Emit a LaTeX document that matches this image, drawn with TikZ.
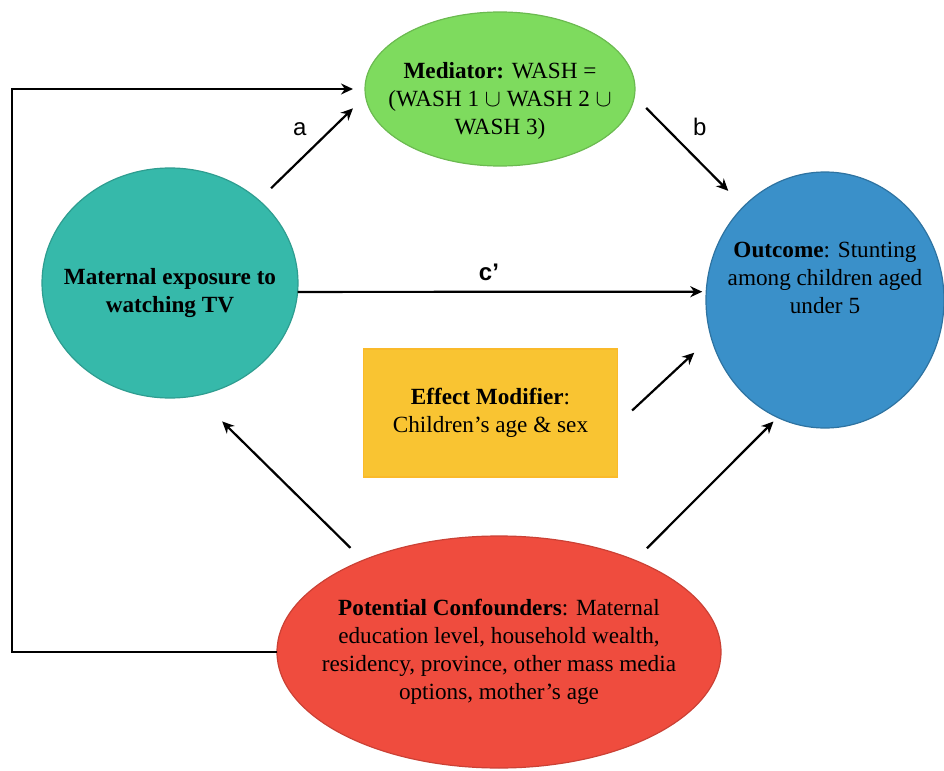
\documentclass[tikz,border=0pt]{standalone}
\usepackage{fontspec}
\setmainfont{Liberation Serif}
\newfontfamily\arialfont{Liberation Sans}
\usetikzlibrary{shapes.geometric,arrows.meta}
\definecolor{tealc}{RGB}{54,185,170}
\definecolor{greenc}{RGB}{126,219,94}
\definecolor{bluec}{RGB}{58,144,201}
\definecolor{yellowc}{RGB}{249,196,50}
\definecolor{redc}{RGB}{239,76,62}
\tikzset{el/.style  = {ellipse, inner sep=0pt, outer sep=0pt, line width=0.6pt},
         bx/.style  = {rectangle, inner sep=0pt, outer sep=0pt, line width=0.6pt},
         txt/.style = {align=center, inner sep=0pt, font=\fontsize{11.6}{13.9}\selectfont},
         lbl/.style = {inner sep=0pt, font=\arialfont\fontsize{12}{14}\selectfont},
         ar/.style  = {->, line width=1.1pt}}

\begin{document}
\begin{tikzpicture}[x=0.5pt, y=-0.5pt, >={Stealth[length=6pt, width=5.5pt]}]
    \useasboundingbox (0,0) rectangle (944,771);
    \node[el, fill=tealc, draw=tealc!85!black, minimum width=128pt, minimum height=115pt] (expo) at (170,283) {};
    \node[el, fill=greenc, draw=greenc!85!black, minimum width=135pt, minimum height=77pt] (medi) at (500,89) {};
    \node[el, fill=bluec, draw=bluec!80!black, minimum width=119pt, minimum height=128pt] (outc) at (825,300) {};
    \node[bx, fill=yellowc, draw=yellowc!85!orange, minimum width=127pt, minimum height=64pt] (modi) at (490.5,413) {};
    \node[el, fill=redc, draw=redc!85!black, minimum width=222pt, minimum height=116pt] (conf) at (499,652) {};
    % texts
    \node[txt, yshift=-5pt] (expo-t) at (expo) {\textbf{Maternal exposure to}\\\textbf{watching TV}};
    \node[txt, yshift=-6pt] (medi-t) at (medi) {\textbf{Mediator:} WASH =\\(WASH 1 $\cup$ WASH 2 $\cup$\\WASH 3)};
    \node[txt, yshift=11pt] (outc-t) at (outc) {\textbf{Outcome}: Stunting\\among children aged\\under 5};
    \node[txt] (modi-t) at (modi) {\textbf{Effect Modifier}:\\Children’s age \& sex};
    \node[txt] (conf-t) at (conf) {\textbf{Potential Confounders}: Maternal\\education level, household wealth,\\residency, province, other mass media\\options, mother’s age};
    % paths
    \draw[ar, shorten <=8.6pt, shorten >=8.8pt] (expo.43) -- node[lbl, xshift=-6.25pt, yshift=9.4pt] (a-l) {a} (medi.183);
    \draw[ar, shorten <=8.4pt, shorten >=11pt] (medi.357) -- node[lbl, xshift=5.4pt, yshift=12pt] (b-l) {b} (outc.131);
    \draw[ar, shorten >=2pt] (expo.356) -- node[lbl, xshift=-6.5pt, yshift=9.75pt] (c-l) {\textbf{c’}} (outc.176);
    \draw[ar, shorten <=10pt, shorten >=11.5pt] (modi.355) -- (outc.198);
    \draw[ar, shorten <=8.8pt, shorten >=18.4pt] (conf.146) -- (expo.283);
    \draw[ar, shorten <=8.5pt, shorten >=2.9pt] (conf.34) -- (outc.248);
    \draw[ar, shorten >=6pt] (conf.west) -- ++(-265,0) |- (medi.west);
\end{tikzpicture}
\end{document}
